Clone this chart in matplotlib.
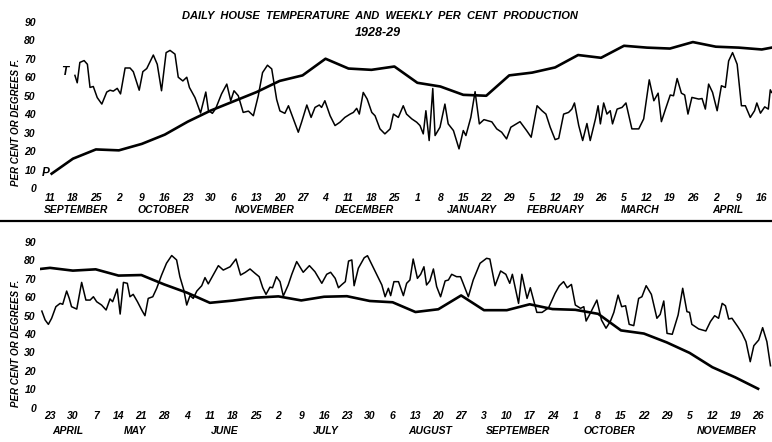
import numpy as np
import matplotlib
matplotlib.use('Agg')
import matplotlib.pyplot as plt
from matplotlib.lines import Line2D

plt.rcParams['font.family'] = ['Liberation Sans Narrow', 'Liberation Sans', 'DejaVu Sans']
plt.rcParams['font.weight'] = 'bold'
plt.rcParams['font.style'] = 'italic'

# ---- 1928-29 : days counted from Sep 11 1928 ----
top_ticks = ['11', '18', '25', '2', '9', '16', '23', '30', '6', '13', '20', '27', '4', '11', '18', '25',
             '1', '8', '15', '22', '29', '5', '12', '19', '26', '5', '12', '19', '26', '2', '9', '16']
top_months = ['SEPTEMBER', 'OCTOBER', 'NOVEMBER', 'DECEMBER', 'JANUARY', 'FEBRUARY', 'MARCH', 'APRIL']
top_month_day = [8, 34.5, 65.5, 96, 128.5, 154, 180, 206.5]

# daily house temperature (T)
top_t_day = [7.6, 8.3, 9.1, 10.4, 11.4, 12.2, 13.2, 14.4, 15.8, 17.3, 18.3, 19.3, 20.5, 21.5, 22.9, 24.4,
             25.4, 27.2, 28.3, 29.5, 31.5, 32.7, 34.0, 35.4, 36.6, 38.1, 39.1, 40.5, 41.7, 42.5, 44.2, 45.9,
             47.5, 48.3, 49.5, 50.5, 52.3, 53.9, 55.1, 56.1, 57.4, 58.9, 60.5, 62.0, 63.5, 64.8, 66.3, 67.6,
             69.1, 70.1, 71.6, 72.7, 74.2, 75.7, 76.7, 78.3, 79.6, 80.8, 82.1, 82.8, 83.8, 85.4, 86.9, 88.4,
             89.9, 91.5, 92.5, 93.5, 94.3, 95.5, 96.7, 98.1, 99.1, 100.6, 102.1, 103.7, 104.7, 106.2, 107.7,
             108.7, 110.3, 111.8, 112.8, 113.8, 114.6, 115.6, 116.7, 117.4, 118.9, 120.4, 121.4, 123.0, 124.7,
             126.0, 126.8, 128.3, 129.6, 130.9, 132.3, 134.7, 136.2, 137.7, 139.2, 140.5, 143.3, 145.3, 146.7,
             148.5, 150.0, 151.2, 152.5, 154.0, 155.1, 156.6, 158.1, 159.1, 159.9, 161.2, 162.4, 163.7, 164.7,
             166.3, 167.1, 167.8, 168.8, 169.8, 170.8, 171.5, 172.9, 174.4, 175.6, 177.4, 179.5, 181.0, 182.7,
             184.1, 185.4, 186.4, 187.6, 189.1, 190.1, 191.2, 192.5, 193.5, 194.5, 195.7, 197.8, 198.8, 199.8,
             200.8, 202.0, 203.4, 204.7, 205.9, 206.9, 208.1, 209.5, 210.8, 212.0, 213.5, 214.8, 215.5, 216.6,
             217.9, 219.0, 219.6, 220.0]
top_t_val = [61, 57, 68, 69, 67, 54.5, 55, 49, 45.5, 52, 53, 52.5, 54, 51, 65, 65,
             63, 53, 63, 64.7, 72, 67, 52.7, 73.3, 74.5, 72.5, 60, 58, 60, 54.5, 49, 40.7,
             52, 42, 40.5, 43, 51, 56.3, 47.3, 52.7, 50, 41, 41.7, 39.2, 50, 62.5, 66.5, 64.5,
             48, 41.8, 40.5, 44.6, 37.5, 30.3, 35.7, 45, 38.3, 43.7, 45, 43.7, 47.3, 39.2, 33.9, 35.7,
             38.3, 40.1, 41, 43.2, 40.1, 51.8, 48.2, 41, 39.2, 32.1, 29.4, 32.1, 40.1, 38.3, 44.6,
             40.1, 37.5, 35.7, 33.9, 29.4, 41.9, 25.8, 53.9, 28.5, 33, 45.5, 34.8, 31.2, 21.3,
             31.2, 28.5, 38.3, 52.2, 34.8, 37.1, 35.9, 32.1, 30.3, 26.7, 33, 36, 31.2, 27.6,
             44.6, 41.9, 40.1, 33, 26.3, 27, 40.1, 41, 42.8, 46.1, 33.9, 25.8, 35, 25.8,
             37.5, 44.6, 34.8, 46.1, 40.1, 41.9, 34.8, 42.8, 43.7, 46.1, 32.1, 32.1, 37.5, 58.6,
             47.3, 51.4, 36, 42.5, 50.4, 50, 59.3, 51.4, 50.4, 40.1, 49.1, 48.2, 48.5, 42.8,
             56.3, 51.8, 41.9, 55.4, 54.5, 68.8, 73.3, 67, 44.6, 44.6, 38.3, 41.9, 46.1, 40.6,
             44, 42.8, 53.2, 51.8]

# weekly per cent production (P)
top_p_day = [0.5, 7, 14, 21, 28, 35, 42, 49, 56, 63, 70, 77, 84, 91, 98, 105, 112, 119, 126, 133,
             140, 147, 154, 161, 168, 175, 182, 189, 196, 203, 210, 217, 220]
top_p_val = [7.9, 16, 21, 20.5, 24, 29, 36, 42, 47, 52, 58, 61, 70, 64.7, 64, 65.8, 57, 55, 50.5, 50,
             61, 62.5, 65.3, 72, 70.5, 77, 76, 75.5, 79, 76.5, 76, 75, 76]

# ---- 1929 : days counted from Apr 23 1929 ----
bot_ticks = ['23', '30', '7', '14', '21', '28', '4', '11', '18', '25', '2', '9', '16', '23', '30', '6',
             '13', '20', '27', '3', '10', '17', '24', '1', '8', '15', '22', '29', '5', '12', '19', '26']
bot_months = ['APRIL', 'MAY', 'JUNE', 'JULY', 'AUGUST', 'SEPTEMBER', 'OCTOBER', 'NOVEMBER']
bot_month_day = [5.5, 26, 53.5, 84.5, 116.5, 143.5, 171.5, 207.5]

bot_t_day = [-2.5, -1.5, -0.5, 0.5, 1.8, 3.1, 3.9, 5.1, 5.9, 6.6, 8.2, 9.7, 11.0, 12.3, 13.3, 14.3,
             15.8, 17.2, 18.4, 19.2, 20.6, 21.5, 22.5, 23.7, 24.5, 25.5, 26.8, 28.1, 29.1, 30.1, 31.5,
             32.7, 34.2, 35.7, 37.3, 38.8, 39.8, 41.0, 41.9, 42.9, 43.9, 45.0, 46.5, 47.5, 48.5, 50.0,
             51.6, 53.1, 55.2, 57.0, 58.4, 59.8, 61.3, 62.8, 64.1, 65.2, 66.2, 67.4, 68.2, 69.4, 70.5,
             71.5, 73.0, 74.1, 75.6, 77.6, 79.5, 81.2, 83.3, 84.8, 86.0, 87.4, 88.4, 89.5, 90.5, 91.5,
             92.5, 93.2, 94.5, 96.3, 97.3, 98.6, 100.2, 101.7, 102.7, 103.7, 104.4, 105.4, 106.8, 108.3,
             109.3, 110.3, 111.3, 112.6, 113.6, 114.6, 115.4, 116.4, 117.5, 118.5, 119.7, 121.1, 122.1,
             123.1, 124.6, 125.8, 126.5, 128.2, 129.7, 131.8, 133.8, 134.8, 136.4, 138.1, 139.7, 140.9,
             141.7, 143.6, 144.6, 146.2, 147.2, 149.2, 150.8, 152.8, 154.8, 156.1, 157.4, 158.5, 159.8,
             161.0, 162.6, 163.6, 164.3, 165.6, 167.6, 169.0, 170.4, 171.7, 172.8, 174.1, 175.2, 176.4,
             177.5, 178.9, 180.4, 181.4, 182.7, 184.3, 186.0, 187.0, 188.1, 189.1, 190.7, 192.5, 193.9,
             195.2, 196.0, 196.7, 198.8, 201.0, 202.4, 203.7, 204.9, 206.0, 207.0, 208.0, 209.0, 210.8,
             212.1, 213.3, 214.6, 215.7, 217.2, 218.4, 219.7, 220.8]
bot_t_val = [52.5, 47.7, 45.3, 48.6, 54.9, 56.7, 56.2, 63.4, 59.4, 54.9, 53.6, 68.1, 58.5, 58.5, 60.3, 57.6,
             55.8, 53.1, 59.1, 57.6, 64.5, 50.9, 68.1, 67.6, 60.3, 61.6, 57.6, 53.1, 50, 59.4, 60.3,
             64.9, 72.1, 78.5, 82.7, 80.3, 71.2, 64, 55.8, 60.9, 59.4, 63.4, 66.3, 70.7, 67.3, 72.1,
             77.2, 74.8, 76.6, 80.8, 72.1, 73.5, 75.4, 73.1, 71.2, 65.2, 61.6, 65.5, 65.2, 71.2, 68.5,
             60.7, 66.7, 72.5, 79.4, 73.6, 77.2, 73.9, 67.6, 72.5, 73.6, 70.3, 65.2, 67, 68.5, 79.7,
             80.3, 66.3, 75.8, 81.5, 82.6, 77.9, 72.1, 66.7, 60.3, 64.9, 60.9, 68.5, 68.5, 60.9,
             67.6, 69.4, 80.8, 70.3, 72.5, 76.6, 66.7, 68.9, 75.4, 65.8, 60.3, 68.9, 69.4,
             72.5, 71.2, 71.2, 68.1, 60.3, 69.4, 78.5, 81.2, 80.8, 66.3, 74.3, 72.5, 67.6,
             72.5, 56.7, 72.5, 59.4, 65.2, 51.8, 51.8, 54.3, 62.2, 66.3, 68.5, 65.2, 67,
             55.8, 54, 54.9, 47.1, 51.4, 58.5, 47.7, 43.2, 46.8, 51.8, 61.2, 54.9, 55.4,
             45.3, 44.6, 59.4, 60.3, 66.3, 61.6, 48.6, 50.7, 58, 40.4, 39.9, 50.4, 64.9,
             52.2, 51.8, 45.3, 42.8, 41.7, 46.8, 50, 48.6, 56.7, 55.4, 48.2, 48.6, 44,
             40.4, 35.9, 25, 33.7, 36.8, 43.5, 35.9, 22.8]

bot_p_day = [-3, 0, 7, 14, 21, 28, 35, 42, 49, 56, 63, 70, 77, 84, 91, 98, 105, 112, 119, 126,
             133, 140, 147, 154, 161, 168, 175, 182, 189, 196, 203, 210, 217]
bot_p_val = [75.4, 76, 74.5, 75.2, 71.8, 72.1, 67, 62.5, 57, 58.2, 59.8, 60.5, 58.3, 60.3, 60.6, 58, 57.3,
             52, 53.5, 61, 53, 53, 56.2, 53.6, 53.2, 51, 42, 40.3, 35.5, 29.8, 22, 16.5, 10.3]

W, H = 772, 442
fig = plt.figure(figsize=(W / 100, H / 100), dpi=100)
fig.patch.set_facecolor('white')


def make_axes(x0, x1, y0, y1, day0_px, px_day, zero_px, px_unit):
    # axes placed in pixels, limits chosen so that day 0 / value 0 land where the scan has them
    ax = fig.add_axes([x0 / W, 1 - y1 / H, (x1 - x0) / W, (y1 - y0) / H])
    ax.set_xlim((x0 - day0_px) / px_day, (x1 - day0_px) / px_day)
    ax.set_ylim((zero_px - y1) / px_unit, (zero_px - y0) / px_unit)
    for s in ax.spines.values():
        s.set_visible(False)
    ax.set_facecolor('none')
    ax.tick_params(length=0, labelsize=7.5)
    ax.tick_params(axis='x', pad=1)
    ax.tick_params(axis='y', pad=3)
    ax.set_yticks(range(0, 91, 10))
    return ax


def draw_panel(ax, ticks, months, month_day, t_day, t_val, p_day, p_val, month_y):
    ax.plot(t_day, t_val, color='black', lw=1.1, solid_joinstyle='round')
    ax.plot(p_day, p_val, color='black', lw=1.9, solid_joinstyle='round')
    ax.set_xticks(np.arange(len(ticks)) * 7)
    ax.set_xticklabels(ticks)
    for name, d in zip(months, month_day):
        ax.text(d, month_y, name, transform=ax.get_xaxis_transform(), ha='center', va='center',
                fontsize=7.5, clip_on=False)


ax1 = make_axes(40, 772, 15, 192, 50, 3.28, 188.3, 1.851)
draw_panel(ax1, top_ticks, top_months, top_month_day, top_t_day, top_t_val, top_p_day, top_p_val, -0.102)
ax1.text(4.6, 62.8, 'T', ha='center', va='center', fontsize=8.5)
ax1.text(-1.3, 8.3, 'P', ha='center', va='center', fontsize=8.5)

ax2 = make_axes(40, 772, 237, 410, 50, 3.263, 407.7, 1.84)
draw_panel(ax2, bot_ticks, bot_months, bot_month_day, bot_t_day, bot_t_val, bot_p_day, bot_p_val, -0.121)

# titles and axis captions
fig.text(380 / W, 1 - 16 / H, 'DAILY  HOUSE  TEMPERATURE  AND  WEEKLY  PER  CENT  PRODUCTION',
         ha='center', va='center', fontsize=8)
fig.text(378 / W, 1 - 33 / H, '1928-29', ha='center', va='center', fontsize=9)
fig.text(16 / W, 1 - 122 / H, 'PER CENT OR DEGREES F.', rotation=90, ha='center', va='center', fontsize=7)
fig.text(16 / W, 1 - 343 / H, 'PER CENT OR DEGREES F.', rotation=90, ha='center', va='center', fontsize=7)

# rule between the two halves
fig.add_artist(Line2D([0, 1], [1 - 221 / H, 1 - 221 / H], color='black', lw=1.6))

fig.savefig('out.png', dpi=100)
